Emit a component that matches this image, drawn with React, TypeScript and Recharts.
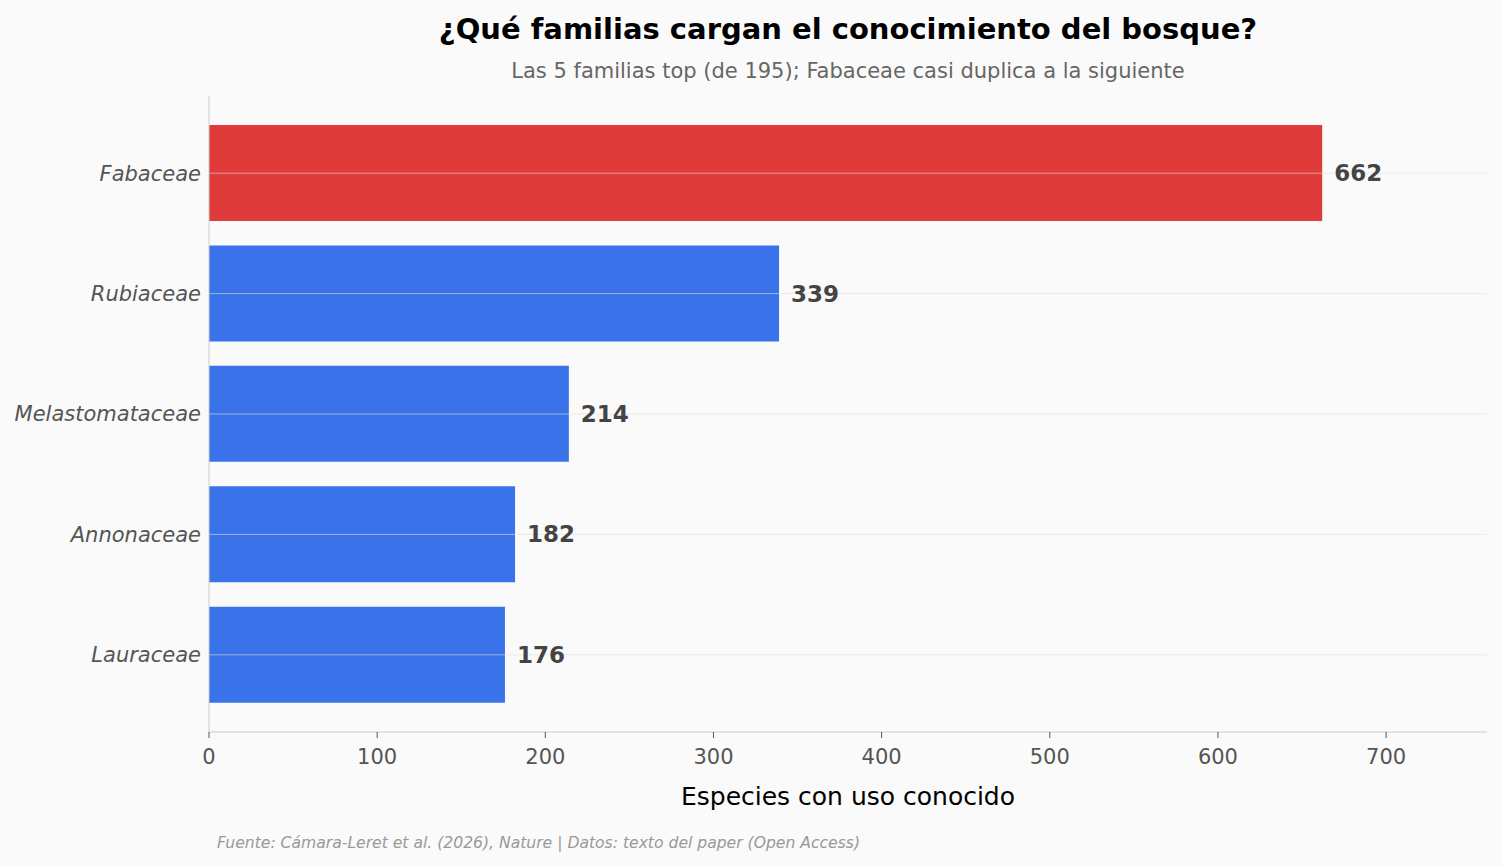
import { BarChart, Bar, XAxis, YAxis, Cell, LabelList, ReferenceLine } from 'recharts'

const families = ['Fabaceae', 'Rubiaceae', 'Melastomataceae', 'Annonaceae', 'Lauraceae']
const species = [662, 339, 214, 182, 176]
const barColors = ['#e03b3b', '#3a72e9', '#3a72e9', '#3a72e9', '#3a72e9']
const xTicks = [0, 100, 200, 300, 400, 500, 600, 700]

const data = families.map((name, i) => ({ name, value: species[i], color: barColors[i] }))

const font = 'DejaVu Sans, sans-serif'

export default function App() {
  return (
    <div
      style={{
        position: 'absolute',
        left: 0,
        top: 0,
        width: 1502,
        height: 866,
        background: '#fafafa',
        fontFamily: font,
      }}
    >
      <div
        style={{
          position: 'absolute',
          left: 209,
          width: 1278,
          top: 12,
          textAlign: 'center',
          fontSize: 29,
          fontWeight: 'bold',
          color: '#000',
        }}
      >
        ¿Qué familias cargan el conocimiento del bosque?
      </div>
      <div
        style={{
          position: 'absolute',
          left: 209,
          width: 1278,
          top: 59,
          textAlign: 'center',
          fontSize: 21,
          color: '#666',
        }}
      >
        Las 5 familias top (de 195); Fabaceae casi duplica a la siguiente
      </div>
      <BarChart
        layout="vertical"
        width={1502}
        height={866}
        data={data}
        margin={{ top: 96, right: 15, bottom: 0, left: 0 }}
        barCategoryGap="10%"
      >
        <XAxis
          type="number"
          domain={[0, 760]}
          ticks={xTicks}
          allowDataOverflow
          height={134}
          stroke="#cccccc"
          tick={{ fill: '#555', fontSize: 21, fontFamily: font }}
          tickLine={{ stroke: '#555' }}
          tickSize={6}
          tickMargin={11}
          label={{
            value: 'Especies con uso conocido',
            position: 'insideTop',
            offset: 55,
            fill: '#000',
            fontSize: 25,
            fontFamily: font,
          }}
        />
        <YAxis
          type="category"
          dataKey="name"
          width={209}
          stroke="#cccccc"
          tickLine={false}
          tickSize={0}
          tickMargin={8}
          padding={{ top: 17, bottom: 17 }}
          tick={{ fill: '#555', fontSize: 21, fontStyle: 'italic', fontFamily: font }}
        />
        <Bar dataKey="value" isAnimationActive={false}>
          {data.map((d, i) => (
            <Cell key={i} fill={d.color} />
          ))}
          <LabelList
            dataKey="value"
            position="right"
            offset={12}
            fill="#444"
            fontSize={23}
            fontWeight="bold"
            fontFamily={font}
          />
        </Bar>
        {families.map((f) => (
          <ReferenceLine key={f} y={f} stroke="#e0e0e0" strokeOpacity={0.6} strokeWidth={1} />
        ))}
      </BarChart>
      <div
        style={{
          position: 'absolute',
          left: 217,
          top: 834,
          fontSize: 15.6,
          fontStyle: 'italic',
          color: '#999',
        }}
      >
        Fuente: Cámara-Leret et al. (2026), Nature | Datos: texto del paper (Open Access)
      </div>
    </div>
  )
}
